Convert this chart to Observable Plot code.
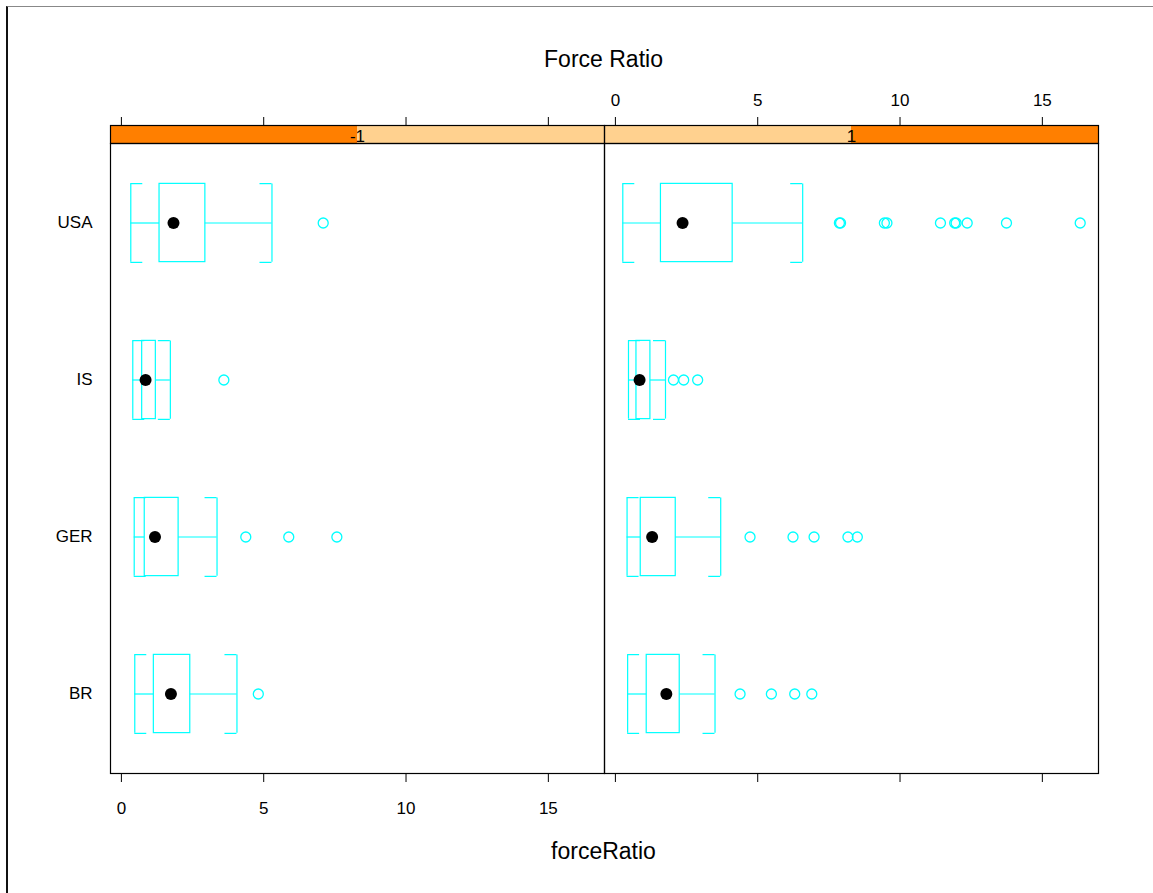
<!DOCTYPE html>
<html><head><meta charset="utf-8">
<script src="https://cdn.jsdelivr.net/npm/d3@7"></script>
<script src="https://cdn.jsdelivr.net/npm/@observablehq/plot@0.6"></script>
<style>
html,body{margin:0;padding:0;background:#fff;}
#root{position:relative;width:1153px;height:893px;overflow:hidden;font-family:"Liberation Sans",Arial,Helvetica,sans-serif;background:#fff;}
#border{position:absolute;left:6px;top:6px;right:0;bottom:0;border-top:1px solid #888;border-left:2px solid #111;}
.title{position:absolute;left:109px;width:989px;text-align:center;font-size:23px;color:#000;line-height:1;}
#strip{position:absolute;left:0;top:60px;}
#main{position:absolute;left:0;top:141px;}
svg{overflow:visible;}
</style></head><body>
<div id="root">
  <div id="border"></div>
  <div class="title" style="top:48px;">Force Ratio</div>
  <div id="strip"></div>
  <div id="main"></div>
  <div class="title" style="top:840px;">forceRatio</div>
</div>
<script>
// ---- data ----
const panels = ["-1", "1"];
const countries = ["USA", "IS", "GER", "BR"];
const xTicks = [0, 5, 10, 15];

// panel "-1"
const neg_low    = [0.33, 0.40, 0.45, 0.47];
const neg_q1     = [1.34, 0.73, 0.82, 1.14];
const neg_median = [1.83, 0.85, 1.18, 1.74];
const neg_q3     = [2.95, 1.21, 2.01, 2.42];
const neg_high   = [5.29, 1.72, 3.36, 4.06];
const neg_out    = [[7.09], [3.60], [4.37, 5.88, 7.57], [4.81]];

// panel "1"
const pos_low    = [0.26, 0.46, 0.41, 0.43];
const pos_q1     = [1.60, 0.74, 0.89, 1.10];
const pos_median = [2.36, 0.85, 1.29, 1.79];
const pos_q3     = [4.12, 1.23, 2.12, 2.26];
const pos_high   = [6.58, 1.76, 3.70, 3.50];
const pos_out    = [[7.87, 7.91, 9.45, 9.54, 11.42, 11.92, 11.97, 12.36, 13.74, 16.33],
                    [2.04, 2.40, 2.89],
                    [4.73, 6.24, 6.98, 8.17, 8.50],
                    [4.38, 5.48, 6.30, 6.90]];

// ---- tables built from the arrays ----
const src = {
  "-1": {low: neg_low, q1: neg_q1, median: neg_median, q3: neg_q3, high: neg_high, out: neg_out},
  "1":  {low: pos_low, q1: pos_q1, median: pos_median, q3: pos_q3, high: pos_high, out: pos_out}
};
const stats = [], outliers = [];
panels.forEach(p => countries.forEach((c, i) => {
  const s = src[p];
  stats.push({panel: p, country: c, low: s.low[i], q1: s.q1[i], median: s.median[i], q3: s.q3[i], high: s.high[i]});
  s.out[i].forEach(v => outliers.push({panel: p, country: c, value: v}));
}));
const allVals = stats.flatMap(d => [d.low, d.high]).concat(outliers.map(d => d.value));
const lo = d3.min(allVals), hi = d3.max(allVals), ext = (hi - lo) * 0.04;
const xDomain = [lo - ext, hi + ext];
const mid = (xDomain[0] + xDomain[1]) / 2;
const stripSegs = [];
panels.forEach((p, pi) => {
  [[xDomain[0], mid], [mid, xDomain[1]]].forEach(([a, b], si) =>
    stripSegs.push({panel: p, x1: a, x2: b, on: si === pi}));
});
const stripLabels = panels.map(p => ({panel: p, x: mid, label: p}));

const CYAN = "#00FFFF", DARK = "#FF7F00", LIGHT = "#FFD18F";
const FONT = "Liberation Sans, Arial, Helvetica, sans-serif";
const W = 1153, ML = 109, MR = 55;
const PANEL_H = 630, HALF_BOX = PANEL_H / countries.length / 4, STUB = 12;

// ---- strip + top axis ----
const strip = Plot.plot({
  width: W, height: 83, marginLeft: ML, marginRight: MR, marginTop: 65, marginBottom: 0,
  style: {fontFamily: FONT, fontSize: "17px", color: "black", background: "transparent", overflow: "visible"},
  fx: {domain: panels, padding: 0, axis: null},
  x: {domain: xDomain},
  marks: [
    Plot.rect(stripSegs, {fx: "panel", x1: "x1", x2: "x2", fill: d => d.on ? DARK : LIGHT}),
    Plot.text(stripLabels, {fx: "panel", x: "x", text: "label", fill: "black", fontSize: 17, dy: 2}),
    Plot.frame({stroke: "black", strokeWidth: 1.2}),
    Plot.axisX(xTicks, {anchor: "top", facetAnchor: "right", tickSize: 9, tickPadding: 11, fontSize: 17, label: null, stroke: "black", fill: "black"}),
    Plot.axisX(xTicks, {anchor: "top", facetAnchor: "left", tickSize: 9, tickFormat: () => "", label: null, stroke: "black"})
  ]
});
document.getElementById("strip").appendChild(strip);

// ---- main panels ----
const main = Plot.plot({
  width: W, height: 2 + PANEL_H + 120, marginLeft: ML, marginRight: MR, marginTop: 2, marginBottom: 120,
  style: {fontFamily: FONT, fontSize: "17px", color: "black", background: "transparent", overflow: "visible"},
  fx: {domain: panels, padding: 0, axis: null},
  x: {domain: xDomain},
  y: {domain: countries, type: "band", padding: 0},
  marks: [
    Plot.ruleY(stats, {fx: "panel", y: "country", x1: "low", x2: "q1", stroke: CYAN, strokeWidth: 1.2}),
    Plot.ruleY(stats, {fx: "panel", y: "country", x1: "q3", x2: "high", stroke: CYAN, strokeWidth: 1.2}),
    Plot.barX(stats, {fx: "panel", y: "country", x1: "q1", x2: "q3", fill: "none", stroke: CYAN, strokeWidth: 1.2, insetTop: PANEL_H/8 - HALF_BOX, insetBottom: PANEL_H/8 - HALF_BOX}),
    Plot.tickX(stats, {fx: "panel", y: "country", x: "low", stroke: CYAN, strokeWidth: 1.2, insetTop: PANEL_H/8 - HALF_BOX, insetBottom: PANEL_H/8 - HALF_BOX}),
    Plot.tickX(stats, {fx: "panel", y: "country", x: "high", stroke: CYAN, strokeWidth: 1.2, insetTop: PANEL_H/8 - HALF_BOX, insetBottom: PANEL_H/8 - HALF_BOX}),
    Plot.ruleY(stats, {fx: "panel", y: "country", x1: "low", x2: "low", insetRight: -STUB, dy: -HALF_BOX, stroke: CYAN, strokeWidth: 1.2}),
    Plot.ruleY(stats, {fx: "panel", y: "country", x1: "low", x2: "low", insetRight: -STUB, dy: HALF_BOX, stroke: CYAN, strokeWidth: 1.2}),
    Plot.ruleY(stats, {fx: "panel", y: "country", x1: "high", x2: "high", insetLeft: -STUB, dy: -HALF_BOX, stroke: CYAN, strokeWidth: 1.2}),
    Plot.ruleY(stats, {fx: "panel", y: "country", x1: "high", x2: "high", insetLeft: -STUB, dy: HALF_BOX, stroke: CYAN, strokeWidth: 1.2}),
    Plot.dot(outliers, {fx: "panel", y: "country", x: "value", r: 5, stroke: CYAN, strokeWidth: 1.3, fill: "none"}),
    Plot.dot(stats, {fx: "panel", y: "country", x: "median", r: 6, fill: "black", stroke: "none"}),
    Plot.frame({stroke: "black", strokeWidth: 1.2}),
    Plot.axisX(xTicks, {anchor: "bottom", facetAnchor: "left", tickSize: 9, tickPadding: 19, fontSize: 17, label: null, stroke: "black", fill: "black"}),
    Plot.axisX(xTicks, {anchor: "bottom", facetAnchor: "right", tickSize: 9, tickFormat: () => "", label: null, stroke: "black"}),
    Plot.axisY({anchor: "left", tickSize: 0, tickPadding: 18, fontSize: 17, label: null, fill: "black"})
  ]
});
document.getElementById("main").appendChild(main);
</script>
</body></html>
